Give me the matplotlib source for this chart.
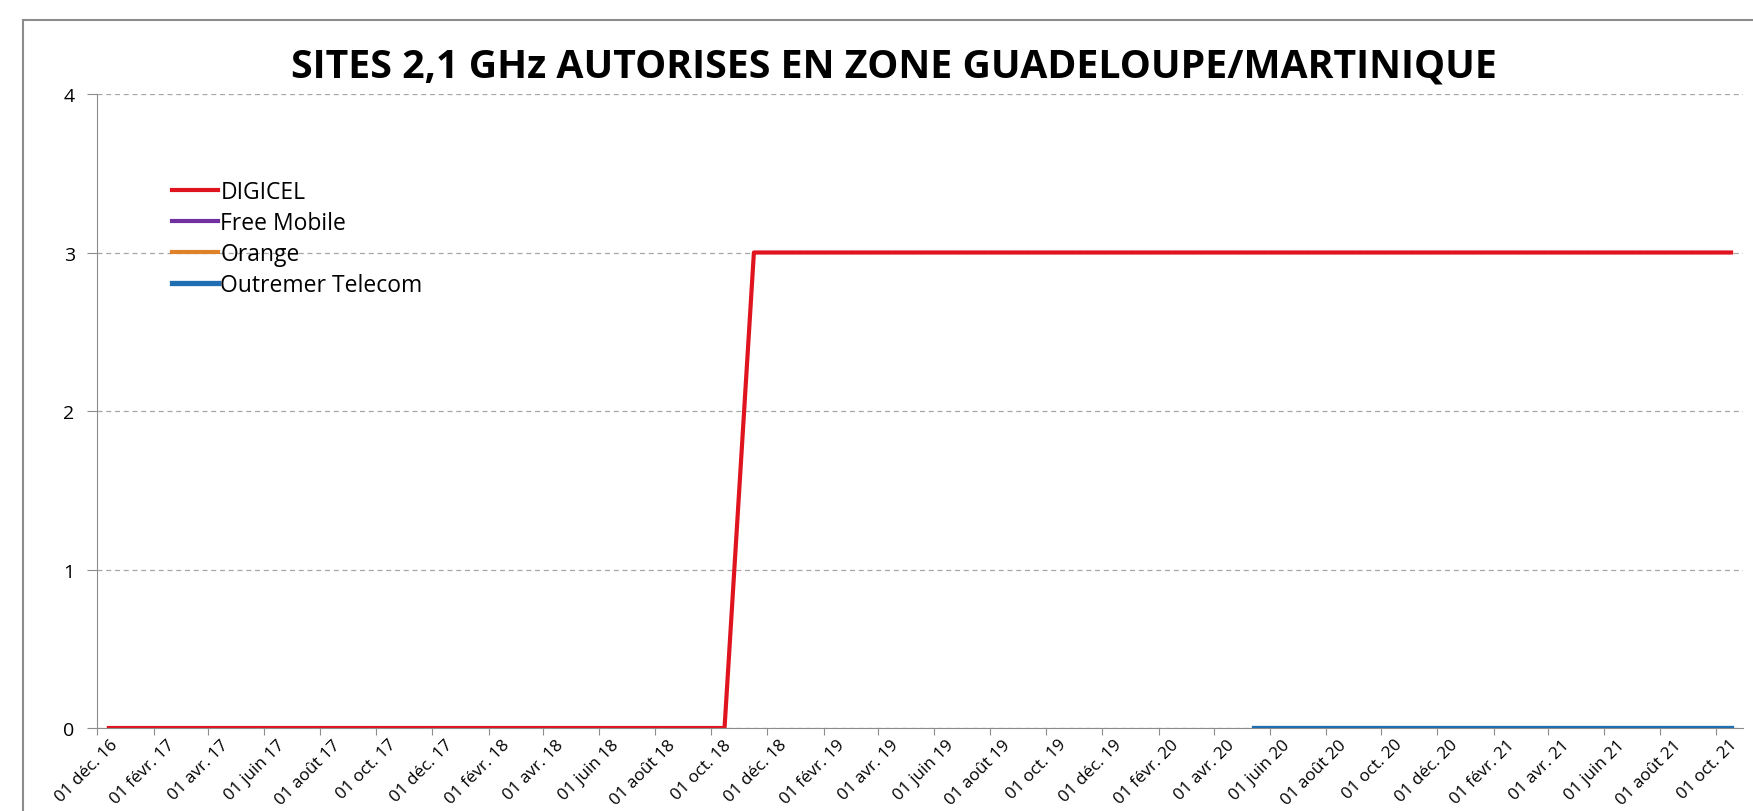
import numpy as np
import pandas as pd
import matplotlib
matplotlib.use('Agg')
import matplotlib.pyplot as plt
from matplotlib.patches import Rectangle

plt.rcParams['font.family'] = ['Open Sans', 'DejaVu Sans']

# data
digicel_dates = pd.to_datetime(['2016-12-14', '2018-10-16', '2018-11-17', '2021-10-17'])
digicel_sites = [0, 0, 3, 3]
free_dates = pd.to_datetime([])
free_sites = []
orange_dates = pd.to_datetime([])
orange_sites = []
omt_dates = pd.to_datetime(['2020-05-15', '2021-10-17'])
omt_sites = [0, 0]

mois = {1: 'janv.', 2: 'févr.', 3: 'mars', 4: 'avr.', 5: 'mai', 6: 'juin',
        7: 'juil.', 8: 'août', 9: 'sept.', 10: 'oct.', 11: 'nov.', 12: 'déc.'}

fig = plt.figure(figsize=(17.53, 8.12), dpi=100)
ax = fig.add_axes([0.0553, 0.1022, 0.9390, 0.7808])

# chart frame
fig.patches.append(Rectangle((23/1753, -0.1), 1.2, 1 - 21/812 + 0.1,
                             transform=fig.transFigure, fill=False,
                             edgecolor='#8c8c8c', linewidth=1.5))

ax.plot(omt_dates, omt_sites, color='#1f6fb2', linewidth=3.8, label='Outremer Telecom', zorder=3)
ax.plot(digicel_dates, digicel_sites, color='#e0141e', linewidth=3.0, label='DIGICEL', zorder=2)
ax.plot(free_dates, free_sites, color='#7030a0', linewidth=3.0, label='Free Mobile')
ax.plot(orange_dates, orange_sites, color='#e0822a', linewidth=3.0, label='Orange')

ax.set_xlim(pd.Timestamp('2016-12-01'), pd.Timestamp('2021-10-30'))
ax.set_ylim(0, 4)
ax.set_yticks([0, 1, 2, 3, 4])
ticks = pd.date_range('2016-12-01', '2021-10-01', freq='2MS')
ax.set_xticks(ticks)
ax.set_xticklabels([])
# rotated date labels, nudged right like the original
for d in ticks:
    ax.annotate('01 %s %02d' % (mois[d.month], d.year % 100), xy=(d, 0),
                xycoords=('data', 'axes fraction'), xytext=(9, -6),
                textcoords='offset points', rotation=45, ha='right', va='top',
                rotation_mode='anchor', fontsize=12.3, annotation_clip=False)

ax.grid(axis='y', linestyle=(0, (4, 3)), color='#a6a6a6', linewidth=0.9)
ax.set_axisbelow(True)
for s in ['top', 'right']:
    ax.spines[s].set_visible(False)
for s in ['left', 'bottom']:
    ax.spines[s].set_color('#8c8c8c')
ax.tick_params(axis='y', length=7, color='#8c8c8c', labelsize=14, pad=9)
ax.tick_params(axis='x', length=5, color='#8c8c8c', pad=3)

handles, labels = ax.get_legend_handles_labels()
order = [1, 2, 3, 0]
ax.legend([handles[i] for i in order], [labels[i] for i in order],
          loc='upper left', bbox_to_anchor=(0.033, 0.897), frameon=False,
          fontsize=16.5, handlelength=2.0, handletextpad=0.12, labelspacing=0.3)

fig.text(0.51, 0.917, 'SITES 2,1 GHz AUTORISES EN ZONE GUADELOUPE/MARTINIQUE',
         ha='center', va='center', fontsize=28.3, fontweight='bold')

fig.savefig('out.png', dpi=100)
